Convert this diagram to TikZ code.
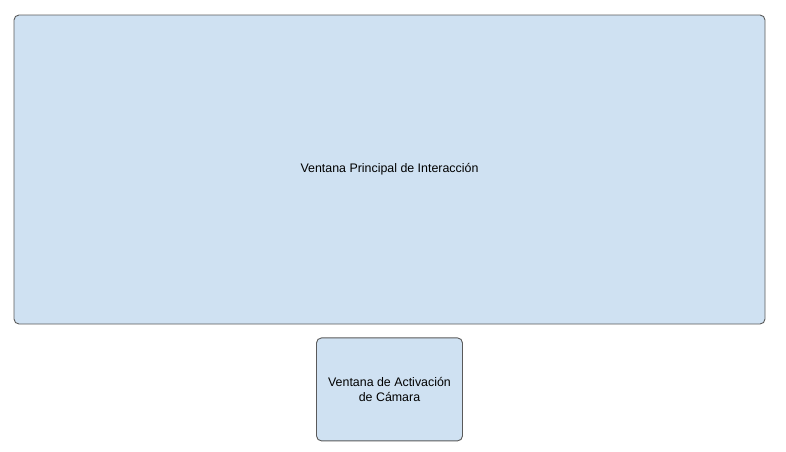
\documentclass[tikz,border=0pt]{standalone}
\usepackage{fontspec}
\setmainfont{Liberation Sans}
\usetikzlibrary{positioning}
\definecolor{winfill}{HTML}{CFE1F2}
\definecolor{winline}{HTML}{5A5A5A}
\tikzset{%
  % Specifications for style of nodes:
         base/.style = {rectangle, rounded corners=5pt, draw=winline,
                        line width=0.9pt, text centered,
                        font=\fontsize{12.4}{14.5}\selectfont},
  windowBox/.style = {base, fill=winfill},
}

\begin{document}
\begin{tikzpicture}[x=1pt, y=1pt, node distance=13pt, align=center]
  \useasboundingbox (0,0) rectangle (786,-451);
  % Specification of nodes (position, etc.)
  \node (mainwin)   [windowBox, minimum width=751pt, minimum height=309pt]
        at (389.5,-169.5) {Ventana Principal de Interacción};
  \node (camerawin) [windowBox, minimum width=146pt, minimum height=103pt,
        below=of mainwin] {Ventana de Activación\\ de Cámara};
\end{tikzpicture}
\end{document}
